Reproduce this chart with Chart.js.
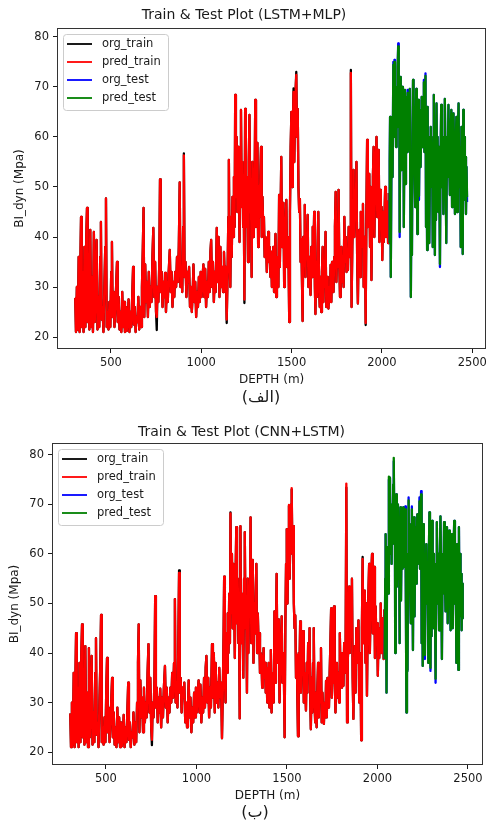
<!DOCTYPE html>
<html>
<head>
<meta charset="utf-8">
<title>Train & Test Plot</title>
<script src="https://cdn.jsdelivr.net/npm/chart.js@4.4.1/dist/chart.umd.min.js"></script>
<style>
  html, body { margin: 0; padding: 0; background: #fff; overflow: hidden; }
  body { width: 486px; height: 820px; position: relative; }
  canvas { position: absolute; left: 0; }
  #chart1 { top: 0; }
  #chart2 { top: 418px; }
  .cap { position: absolute; width: 100px; text-align: center; font-family: "DejaVu Sans", sans-serif; font-size: 16px; line-height: 20px; color: #1a1a1a; }
</style>
</head>
<body>
<canvas id="chart1" width="490" height="392"></canvas>
<div class="cap" style="left:211px; top:387px;" dir="rtl">(الف)</div>
<canvas id="chart2" width="486" height="390"></canvas>
<div class="cap" style="left:205px; top:802px;" dir="rtl">(ب)</div>
<script>
// depth (m) of the training part
const trainDepth = [
  303,307,312,317,322,327,331,335,339,344,349,354,359,364,368,372,377,381,386,391,
  396,401,406,411,416,421,426,431,436,441,445,449,454,459,464,469,473,477,482,487,
  492,497,502,506,510,515,520,525,530,534,538,543,548,553,558,563,568,573,578,583,
  588,593,598,603,608,613,618,623,627,632,637,642,647,652,657,662,667,672,677,681,
  685,690,695,700,705,710,715,720,725,730,735,740,745,750,754,758,763,768,772,776,
  781,786,791,796,800,805,810,815,820,826,831,836,841,846,851,856,861,866,871,876,
  881,885,890,895,900,904,908,913,918,923,928,933,938,943,948,953,957,962,967,972,
  977,982,987,992,997,1002,1007,1012,1017,1022,1027,1032,1037,1042,1047,1051,1055,1060,1065,1070,
  1075,1080,1086,1091,1096,1101,1106,1111,1116,1121,1126,1131,1136,1141,1146,1150,1153,1157,1161,1165,
  1169,1173,1177,1181,1185,1188,1192,1196,1200,1204,1208,1212,1216,1220,1224,1228,1232,1235,1239,1243,
  1247,1251,1255,1259,1263,1267,1271,1275,1279,1283,1287,1291,1295,1299,1303,1307,1311,1315,1319,1323,
  1327,1331,1335,1339,1343,1347,1351,1355,1359,1363,1367,1371,1375,1379,1383,1387,1391,1395,1399,1403,
  1407,1411,1415,1419,1423,1427,1431,1435,1439,1443,1447,1451,1455,1459,1463,1467,1471,1475,1479,1483,
  1487,1491,1495,1499,1503,1507,1511,1515,1519,1523,1526,1530,1534,1538,1542,1546,1550,1554,1558,1561,
  1565,1569,1573,1577,1581,1585,1589,1593,1597,1601,1605,1609,1613,1617,1621,1625,1629,1632,1636,1640,
  1644,1648,1652,1656,1660,1664,1668,1672,1676,1680,1684,1688,1692,1696,1700,1704,1708,1712,1716,1720,
  1724,1728,1732,1736,1740,1744,1748,1752,1756,1760,1764,1768,1772,1776,1780,1784,1788,1792,1796,1800,
  1804,1808,1812,1816,1820,1824,1828,1832,1836,1840,1843,1847,1851,1855,1859,1863,1867,1871,1875,1879,
  1883,1887,1891,1895,1899,1903,1907,1910,1914,1918,1922,1926,1930,1934,1938,1942,1946,1950,1954,1958,
  1962,1966,1970,1974,1978,1982,1986,1990,1994,1998,2002,2006,2010,2014,2018,2022,2026,2030,2034,2038
];

// measured BI_dyn, training part
const orgTrain = [
  27.8,21,30,21.5,36,21,34,44,22,33,21,38,22,40,45.8,23,35,21.5,41.4,22,
  32,21,41,23,30,39.4,21.5,28,22,36,43,23.5,26,21,30,38,47.7,22,25,21.5,
  27,22,33,39,24,29,22,26,31,35,23,28,21.5,25,21,29,22,27,21,26,
  21.2,23,27.5,21,25,22,28,34,22.5,26,21,24,23,28,21.5,26,22,30,38,45.8,
  24,34.5,27,31,24,33,26,30,27,36,41.8,28,35,25,21.4,30,27,35,51.5,29,
  33,26,31,28,32.8,25,31,27,33,37.4,29,33,26,31,28,33,30,36,31,38,
  50.9,30,34,29,42,56.7,32,35,28,33,31,34,26,30,25,29,34.5,27,31,24,
  29,26,32,27,33,28,32,34.5,28,33.6,26,31,28,35,29,37,39.4,30,35,27,
  33,29,41.8,31,40,28,38,30,34,29,37,31,34,22.8,33,44,55.4,35,30,44,
  36,48,40,52,42,68.4,48,60,45,58,52,39,55,65.4,46,55,42,50,26.8,65.6,
  42,52,48,35,55,64.4,45,50,32,55,40,52,48,67.4,42,55,58.8,38,50,44,
  52,58,40,48,42,44,36,40,39,33,37,41,35,38,32,37,30,31.4,38,29,
  35,40.6,28,33,36,30,48.4,34,44,56,38,42,46.8,30,38,42,47.4,34,40,36,
  23,45,58,65,50,62,69.7,55,65,70,73,60,65.6,50,45,47.6,35,39.6,30,23.2,
  40,36,46.4,32,40,36,44.4,30,36,33,28.4,38,32,42,36,45,30,24.6,35,28,
  38,45,30,26,32,25,33,38,27,35,30,41,26,32,28,25.7,30,27,34.4,27,
  35,31,29,36,42,49,31,38,34,49.4,35,28,34,38,31,36,30,44,35,40,
  33,37,33.4,42,36,40,73.4,26,38,45,53.4,40,48,44,55,35,26.7,38,41.4,32,
  45,38,42,46.6,30,40,35,22.4,45,59.4,42,50,52.6,38,50,31.4,46,52,58,40,
  50,56,60,44,53,57.4,39,49.4,42,46,35.4,45,39,44,50,40,44,47,38.8,48.8
];

// LSTM+MLP prediction, training part
const predTrainMlp = [
  27.8,21,30,21.5,36,21,34,44,22,33,21,38,22,40,45.8,23,35,21.5,41.4,22,
  32,21,41,23,30,39.4,21.5,28,22,36,43,23.5,26,21,30,38,47.7,22,25,21.5,
  27,22,33,39,24,29,22,26,31,35,23,28,21.5,25,21,29,22,27,21,26,
  21.2,23,27.5,21,25,22,28,34,22.5,26,21,24,23,28,21.5,26,22,30,38,45.8,
  24,34.5,27,31,24,33,26,30,27,36,41.8,28,35,25,24,30,27,35,51.5,29,
  33,26,31,28,32.8,25,31,27,33,37.4,29,33,26,31,28,33,30,36,31,38,
  50.9,30,34,29,42,56.3,32,35,28,33,31,34,26,30,25,29,34.5,27,31,24,
  29,26,32,27,33,28,32,34.5,28,33.6,26,31,28,35,29,37,39.4,30,35,27,
  33,29,41.8,31,40,28,38,30,34,29,37,31,34,23.5,33,44,55.4,35,30,44,
  36,48,40,52,42,68.4,48,60,45,58,52,39,55,65.4,46,55,42,50,27.5,65.6,
  42,52,48,35,55,64.4,45,50,32,55,40,52,48,67.4,42,55,58.8,38,50,44,
  52,58,40,48,42,44,36,40,39,33,37,41,35,38,32,37,30,31.4,38,29,
  35,40.6,28,33,36,30,48.4,34,44,56,38,42,46.8,30,38,42,47.4,34,40,36,
  23,45,58,65,50,62,69,55,65,70,72.4,60,65.6,50,45,47.6,35,39.6,30,23.2,
  40,36,46.4,32,40,36,44.4,30,36,33,28.4,38,32,42,36,45,30,24.6,35,28,
  38,45,30,26,32,25,33,38,27,35,30,41,26,32,28,25.7,30,27,34.4,27,
  35,31,29,36,42,49,31,38,34,49.4,35,28,34,38,31,36,30,44,35,40,
  33,37,33.4,42,36,40,72.8,26,38,45,53.4,40,48,44,55,35,26.7,38,41.4,32,
  45,38,42,46.6,30,40,35,22.8,45,59.4,42,50,52.6,38,50,31.4,46,52,58,40,
  50,56,60,44,53,57.4,39,49.4,42,46,35.4,45,39,44,50,40,44,47,38.8,48.8
];

// CNN+LSTM prediction, training part
const predTrainCnn = [
  27.8,21,30,21.5,36,21,34,44,22,33,21,38,22,40,45.8,23,35,21.5,41.4,22,
  32,21,41,23,30,39.4,21.5,28,22,36,43,23.5,26,21,30,38,47.7,22,25,21.5,
  27,22,33,39,24,29,22,26,31,35,23,28,21.5,25,21,29,22,27,21,26,
  21.2,23,27.5,21,25,22,28,34,22.5,26,21,24,23,28,21.5,26,22,30,38,45.8,
  24,34.5,27,31,24,33,26,30,27,36,41.8,28,35,25,22.5,30,27,35,51.5,29,
  33,26,31,28,32.8,25,31,27,33,37.4,29,33,26,31,28,33,30,36,31,38,
  50.9,30,34,29,42,56.2,32,35,28,33,31,34,26,30,25,29,34.5,27,31,24,
  29,26,32,27,33,28,32,34.5,28,33.6,26,31,28,35,29,37,39.4,30,35,27,
  33,29,41.8,31,40,28,38,30,34,29,37,31,34,22.8,33,44,55.4,35,30,44,
  36,48,40,52,42,68.2,48,60,45,58,52,39,55,65.4,46,55,42,50,26.8,65.6,
  42,52,48,35,55,64.4,45,50,32,55,40,52,48,67.4,42,55,58.8,38,50,44,
  52,58,40,48,42,44,36,40,39,33,37,41,35,38,32,37,30,31.4,38,29,
  35,40.6,28,33,36,30,48.4,34,44,56,38,42,46.8,30,38,42,47.4,34,40,36,
  23,45,58,65,50,62,69.9,55,65,70,73.3,60,65.6,50,45,47.6,35,39.6,30,23.2,
  40,36,46.4,32,40,36,44.4,30,36,33,28.4,38,32,42,36,45,30,24.6,35,28,
  38,45,30,26,32,25,33,38,27,35,30,41,26,32,28,25.7,30,27,34.4,27,
  35,31,29,36,42,49,31,38,34,49.4,35,28,34,38,31,36,30,44,35,40,
  33,37,33.4,42,36,40,74.2,26,38,45,53.4,40,48,44,55,35,26.7,38,41.4,32,
  45,38,42,46.6,30,40,35,22.4,45,59,42,50,52.6,38,50,31.4,46,52,58,40,
  50,56,60,44,53,57.4,39,49.4,42,46,35.4,45,39,44,50,40,44,47,38.8,48.8
];

// depth (m) of the test part
const testDepth = [
  2040,2043,2045,2048,2050,2053,2056,2059,2063,2066,2069,2072,2075,2078,2081,2084,2087,2090,2093,2096,
  2098,2101,2104,2107,2110,2113,2116,2119,2121,2124,2127,2130,2133,2136,2139,2142,2145,2148,2151,2154,
  2157,2160,2163,2166,2169,2172,2175,2178,2181,2184,2187,2190,2193,2196,2199,2202,2205,2208,2211,2214,
  2217,2220,2223,2226,2229,2232,2235,2238,2241,2244,2247,2250,2253,2256,2259,2262,2266,2270,2274,2278,
  2281,2284,2287,2290,2293,2296,2299,2302,2305,2308,2312,2316,2321,2324,2328,2332,2336,2340,2344,2348,
  2352,2356,2360,2364,2368,2372,2376,2380,2384,2388,2392,2396,2400,2404,2408,2412,2416,2420,2424,2428,
  2432,2436,2440,2444,2447,2450,2453,2456,2459,2462,2465,2468,2471
];

const orgTest = [
  38.8,55,64,50,32,58,61.4,52,75,60,75.4,62,68,58,70,62,74,78.7,65,72,
  40,60,72,53.4,64,70,55,66,42,58,69.4,50.6,62,68,57,69.4,62,57.4,66,69.6,
  50,28,48,36.4,60,71.4,58,66,52,46,64,69.6,55,40.6,62,67.4,47.4,60,65.4,54,
  62,68,58,64,60,71.4,57,67.4,72.7,42,60,37.4,66,44,60,38.8,55,62,50,58,
  38,60,68.4,55,36.4,60,43.4,66.7,52,60,45,58,34,55,66.4,50,60,44.6,58,67.6,
  55,38.8,60,52,66.4,56,48.4,60,65.4,46,58,64.7,54,44.6,58,64,45,60,66.7,50,
  58,38,62,50,36.6,65.4,47.4,60,52,56,44.6,54,47
];

const predTestMlp = [
  38.8,55,64,50,32,58,61.4,52,74.4,60,75,62,68,58,70,62,74,78.1,65,72,
  41,60,72,53.4,64,70,55,66,42,58,69.4,50.6,62,68,57,68.8,62,57.4,66,69.6,
  50,28,48,36.4,60,71.4,58,66,52,46,64,69.6,55,40.6,62,67.4,48.2,60,65.4,54,
  62,68,58,64,60,70.9,57,67.4,72.2,42,60,37.4,66,45,60,38.8,55,62,50,58,
  38,60,68.4,55,36.4,60,43.4,66.7,52,60,45,58,34.6,55,66.4,50,60,44.6,58,67.6,
  55,38.8,60,52,66.4,56,48.4,60,65.4,46,58,64.7,54,44.6,58,64,45,60,66.7,50,
  58,38,62,50,36.6,65.4,47.4,60,52,56,44.6,54,48
];

const predTestCnn = [
  38.8,55,64,50,32,58,61.4,52,75.6,60,75.4,62,68,58,70,62,74,79.4,65,72,
  40,60,72,53.4,64,70,55,66,42,58,69.4,50.6,62,68,57,69.4,62,57.4,66,69,
  50,28,48,36.4,60,70.8,58,66,52,46,64,69,55,40.6,62,67.4,47.4,60,65.4,54,
  62,68,58,64,60,70.6,57,67.4,72,42,60,37.4,66,44,60,39.6,55,62,50,58,
  38,60,68.4,55,37,60,43.4,66.7,52,60,45,58,34.8,55,66.4,50,60,44.6,58,67.6,
  55,38.8,60,52,66.4,56,48.4,60,65.4,46,58,64.7,54,44.6,58,64,45,60,66.7,50,
  58,38,62,50,36.6,65.4,47.4,60,52,56,44.6,54,47
];

const xTicks = [500, 1000, 1500, 2000, 2500];
const yTicks = [20, 30, 40, 50, 60, 70, 80];

const FONT = '"DejaVu Sans", sans-serif';
const INK = '#1a1a1a';
const seriesNames = ['org_train', 'pred_train', 'org_test', 'pred_test'];
const seriesColors = ['#000000', '#ff0000', '#0000ff', '#008000'];

function pts(xs, ys) {
  return xs.map((x, i) => ({ x: x, y: ys[i] }));
}

// matplotlib-like frame + legend inside the axes
const framePlugin = {
  id: 'frame',
  afterDraw(chart) {
    const { ctx, chartArea: a } = chart;
    ctx.save();
    ctx.strokeStyle = '#333';
    ctx.lineWidth = 1;
    ctx.strokeRect(Math.round(a.left) + 0.5, Math.round(a.top) + 0.5,
      Math.round(a.right - a.left) - 1, Math.round(a.bottom - a.top) - 1);

    const bx = a.left + 6, by = a.top + 6, bw = 105, bh = 76;
    ctx.beginPath();
    ctx.roundRect(bx + 0.5, by + 0.5, bw, bh, 3);
    ctx.fillStyle = 'rgba(255,255,255,0.85)';
    ctx.fill();
    ctx.strokeStyle = '#cccccc';
    ctx.stroke();

    ctx.font = '11.5px ' + FONT;
    ctx.textBaseline = 'middle';
    seriesNames.forEach((name, i) => {
      const cy = by + 10 + i * 18;
      ctx.beginPath();
      ctx.moveTo(bx + 4, cy);
      ctx.lineTo(bx + 29, cy);
      ctx.strokeStyle = seriesColors[i];
      ctx.lineWidth = 1.8;
      ctx.stroke();
      ctx.fillStyle = INK;
      ctx.fillText(name, bx + 39, cy);
    });
    ctx.restore();
  }
};

function makeChart(id, title, predTrain, predTest, o) {
  const series = [
    pts(trainDepth, orgTrain),
    pts(trainDepth, predTrain),
    pts(testDepth, orgTest),
    pts(testDepth, predTest)
  ];
  new Chart(document.getElementById(id), {
    type: 'line',
    data: {
      datasets: series.map((d, i) => ({
        label: seriesNames[i],
        data: d,
        borderColor: seriesColors[i],
        order: 4 - i
      }))
    },
    options: {
      responsive: false,
      animation: false,
      events: [],
      elements: {
        point: { radius: 0 },
        line: { borderWidth: 2.3, tension: 0, borderJoinStyle: 'round' }
      },
      layout: { padding: { left: 0, right: o.padRight, top: 0, bottom: 0 } },
      plugins: {
        legend: { display: false },
        tooltip: { enabled: false },
        title: {
          display: true,
          text: title,
          color: INK,
          font: { family: FONT, size: 14, weight: 'normal' },
          padding: { top: o.titleTop, bottom: o.titleBottom }
        }
      },
      scales: {
        x: {
          type: 'linear',
          min: 202,
          max: o.xMax,
          border: { display: false },
          grid: { drawOnChartArea: false, color: INK, tickLength: 4 },
          afterBuildTicks: s => { s.ticks = xTicks.map(v => ({ value: v })); },
          ticks: { color: INK, font: { family: FONT, size: 11.5 }, padding: 3, maxRotation: 0,
                   callback: v => String(v) },
          title: {
            display: true, text: 'DEPTH (m)', color: INK,
            font: { family: FONT, size: 12 }, padding: { top: 0, bottom: 4.8 }
          },
          afterFit: s => { s.height = 43; }
        },
        y: {
          min: o.yMin,
          max: o.yMax,
          border: { display: false },
          grid: { drawOnChartArea: false, color: INK, tickLength: 4 },
          afterBuildTicks: s => { s.ticks = yTicks.map(v => ({ value: v })); },
          ticks: { color: INK, font: { family: FONT, size: 11.5 }, padding: 4,
                   callback: v => String(v) },
          title: {
            display: true, text: 'BI_dyn (Mpa)', color: INK,
            font: { family: FONT, size: 12 }, padding: { top: o.yTitlePad, bottom: 0 }
          },
          afterFit: s => { s.width = o.yWidth; }
        }
      }
    },
    plugins: [framePlugin]
  });
}

makeChart('chart1', 'Train & Test Plot (LSTM+MLP)', predTrainMlp, predTestMlp,
  { padRight: 2, titleTop: 6.6, titleBottom: 4.6, xMax: 2577, yMin: 17.6, yMax: 81.8, yWidth: 57, yTitlePad: 12.8 });
makeChart('chart2', 'Train & Test Plot (CNN+LSTM)', predTrainCnn, predTestCnn,
  { padRight: 3, titleTop: 5.6, titleBottom: 2.6, xMax: 2583, yMin: 17.4, yMax: 82.4, yWidth: 52, yTitlePad: 7.8 });
</script>
</body>
</html>
